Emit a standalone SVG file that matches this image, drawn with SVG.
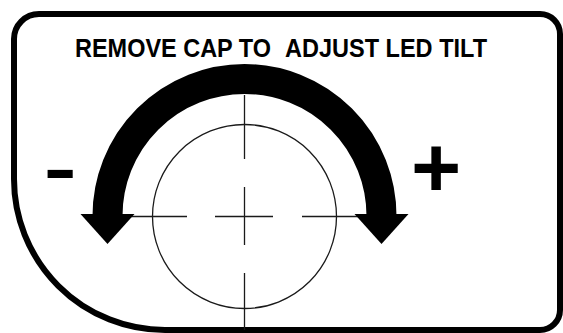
<svg xmlns="http://www.w3.org/2000/svg" width="563" height="333" viewBox="0 0 563 333">
  <style>
    .frame { fill: #fff; stroke: #000; stroke-width: 6; }
    .cross { stroke: #1a1a1a; stroke-width: 1.3; fill: none; }
    .title { font-family: "Liberation Sans", Arial, sans-serif; font-weight: bold; font-size: 25px; fill: #000; }
    .sign { font-family: "Liberation Sans", Arial, sans-serif; fill: #000; }
  </style>
  <rect width="563" height="333" fill="#fff"/>
  <g id="frame">
    <path class="frame" d="M 39 14 H 540 A 20 20 0 0 1 560 34 V 310 A 20 20 0 0 1 540 330 H 165 A 151 151 0 0 1 14 179 V 39 A 25 25 0 0 1 39 14 Z"/>
  </g>
  <g id="title">
    <text class="title" x="75" y="57" textLength="196" lengthAdjust="spacingAndGlyphs">REMOVE CAP TO</text>
    <text class="title" x="285" y="57" textLength="202" lengthAdjust="spacingAndGlyphs">ADJUST LED TILT</text>
  </g>
  <g id="lens">
    <circle cx="244.5" cy="216.5" r="92" fill="none" stroke="#1a1a1a" stroke-width="1.3"/>
  </g>
  <g id="crosshair">
    <path class="cross" d="M 244.5 95 V 159 M 244.5 187 V 245 M 244.5 273 V 330 M 128 216.5 H 187 M 215 216.5 H 273 M 302 216.5 H 358"/>
  </g>
  <g id="arrow">
    <path d="M 107.5 216 A 137 137 0 0 1 381.5 216" fill="none" stroke="#000" stroke-width="30"/>
    <polygon points="80.5,214 134.5,214 107.5,244" fill="#000"/>
    <polygon points="354.5,214 408.5,214 381.5,244" fill="#000"/>
  </g>
  <g id="minus">
    <text class="sign" x="43" y="202" font-size="103">-</text>
  </g>
  <g id="plus">
    <text class="sign" x="411" y="197" font-size="86" font-weight="bold">+</text>
  </g>
</svg>
